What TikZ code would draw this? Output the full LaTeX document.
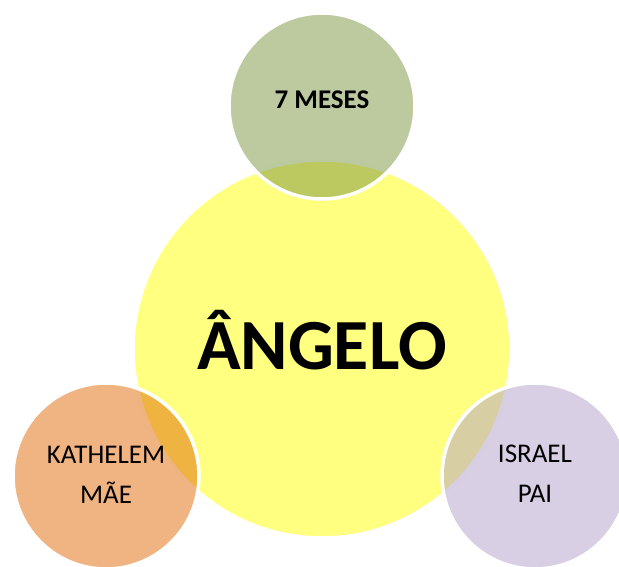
\documentclass[tikz,border=0pt]{standalone}
\usepackage{fontspec}
\setmainfont{Carlito}
\usepackage{xcolor}
\definecolor{sunyellow}{HTML}{FFFF80}
\definecolor{olivegreen}{HTML}{7B9541}
\definecolor{peachorange}{HTML}{E16905}
\definecolor{lilac}{HTML}{B19FC9}

\begin{document}
\begin{tikzpicture}[x=1pt,y=1pt,
  bubble/.style={circle,draw=white,line width=3.5pt,inner sep=0pt,minimum size=186pt,fill opacity=0.5},
  small/.style={font=\fontsize{27}{40}\selectfont,align=center}]
\useasboundingbox (0,0) rectangle (619,567);
% centre
\node[circle,draw=white,line width=3.5pt,fill=sunyellow,inner sep=0pt,minimum size=378pt] (angelo) at (322,218) {};
% the three around it
\node[bubble,fill=olivegreen] (meses) at (322,461) {};
\node[bubble,fill=peachorange] (mae) at (106,91) {};
\node[bubble,fill=lilac] (pai) at (535,91) {};
\node[font=\fontsize{72}{86}\selectfont\bfseries,anchor=base,yshift=-21pt] (angelotxt) at (angelo.center) {ÂNGELO};
\node[font=\fontsize{27}{32}\selectfont\bfseries,anchor=base,yshift=-2.3pt] (mesestxt) at (meses.center) {7 MESES};
\node[small,yshift=1.5pt] (maetxt) at (mae.center) {KATHELEM\\MÃE};
\node[small,yshift=2pt] (paitxt) at (pai.center) {ISRAEL\\PAI};
\end{tikzpicture}
\end{document}
